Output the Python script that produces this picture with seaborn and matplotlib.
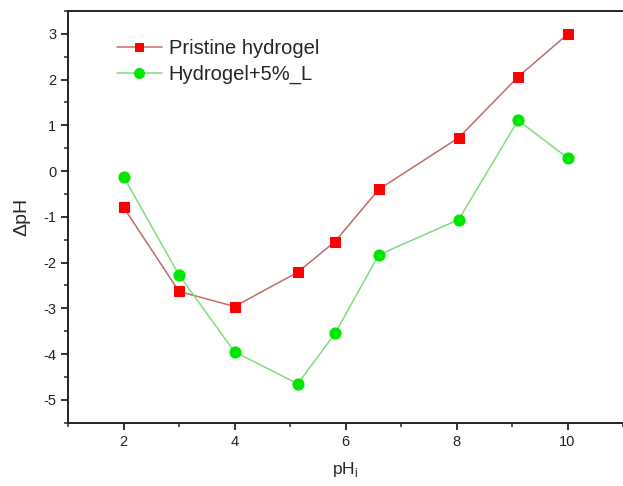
import matplotlib
matplotlib.use("Agg")
import matplotlib.pyplot as plt
import seaborn as sns
import pandas as pd
from matplotlib.ticker import MultipleLocator

sns.set_style("ticks")
plt.rcParams['font.family'] = ['Liberation Sans', 'DejaVu Sans']
plt.rcParams['mathtext.fontset'] = 'custom'
plt.rcParams['mathtext.rm'] = 'Liberation Sans'
plt.rcParams['axes.unicode_minus'] = False

ph_i = [2.0, 3.0, 4.0, 5.14, 5.81, 6.60, 8.04, 9.11, 10.0]
pristine = [-0.79, -2.63, -2.96, -2.21, -1.54, -0.40, 0.73, 2.06, 2.99]
hydrogel_L = [-0.12, -2.27, -3.95, -4.65, -3.55, -1.83, -1.06, 1.11, 0.29]

df_p = pd.DataFrame({"x": ph_i, "y": pristine})
df_l = pd.DataFrame({"x": ph_i, "y": hydrogel_L})

fig = plt.figure(figsize=(6.23, 4.86), dpi=100)
ax = fig.add_axes([68/623, 63.3/486, 555/623, 411.7/486])

sns.lineplot(data=df_p, x="x", y="y", ax=ax, color="#c46a6a", lw=1.1,
             marker="s", markersize=7, markerfacecolor="#ff0000",
             markeredgecolor="#ff0000", label="Pristine hydrogel")
sns.lineplot(data=df_l, x="x", y="y", ax=ax, color="#7fdc7f", lw=1.1,
             marker="o", markersize=8, markerfacecolor="#00e600",
             markeredgecolor="#00e600", label="Hydrogel+5%_L")

ax.set_xlim(1, 11)
ax.set_ylim(-5.5, 3.5)
ax.xaxis.set_major_locator(MultipleLocator(2))
ax.xaxis.set_minor_locator(MultipleLocator(1))
ax.yaxis.set_major_locator(MultipleLocator(1))
ax.yaxis.set_minor_locator(MultipleLocator(0.5))
ax.tick_params(which="major", direction="out", length=5, width=1.3, labelsize=10.5, colors="#222222")
ax.tick_params(which="minor", direction="out", length=3, width=1.1)
for s in ["left", "bottom", "top"]:
    ax.spines[s].set_linewidth(1.4)
    ax.spines[s].set_color("#222222")
ax.spines["right"].set_visible(False)

ax.set_xlabel(r"pH$_\mathregular{i}$", fontsize=12.5, labelpad=8)
ax.set_ylabel("ΔpH", fontsize=14, labelpad=9)

leg = ax.legend(loc="upper left", bbox_to_anchor=(0.056, 0.975), frameon=False,
                fontsize=14.5, handlelength=2.2, handletextpad=0.35, labelspacing=0.33,
                markerscale=0.9)

fig.savefig("out.png", dpi=100)
